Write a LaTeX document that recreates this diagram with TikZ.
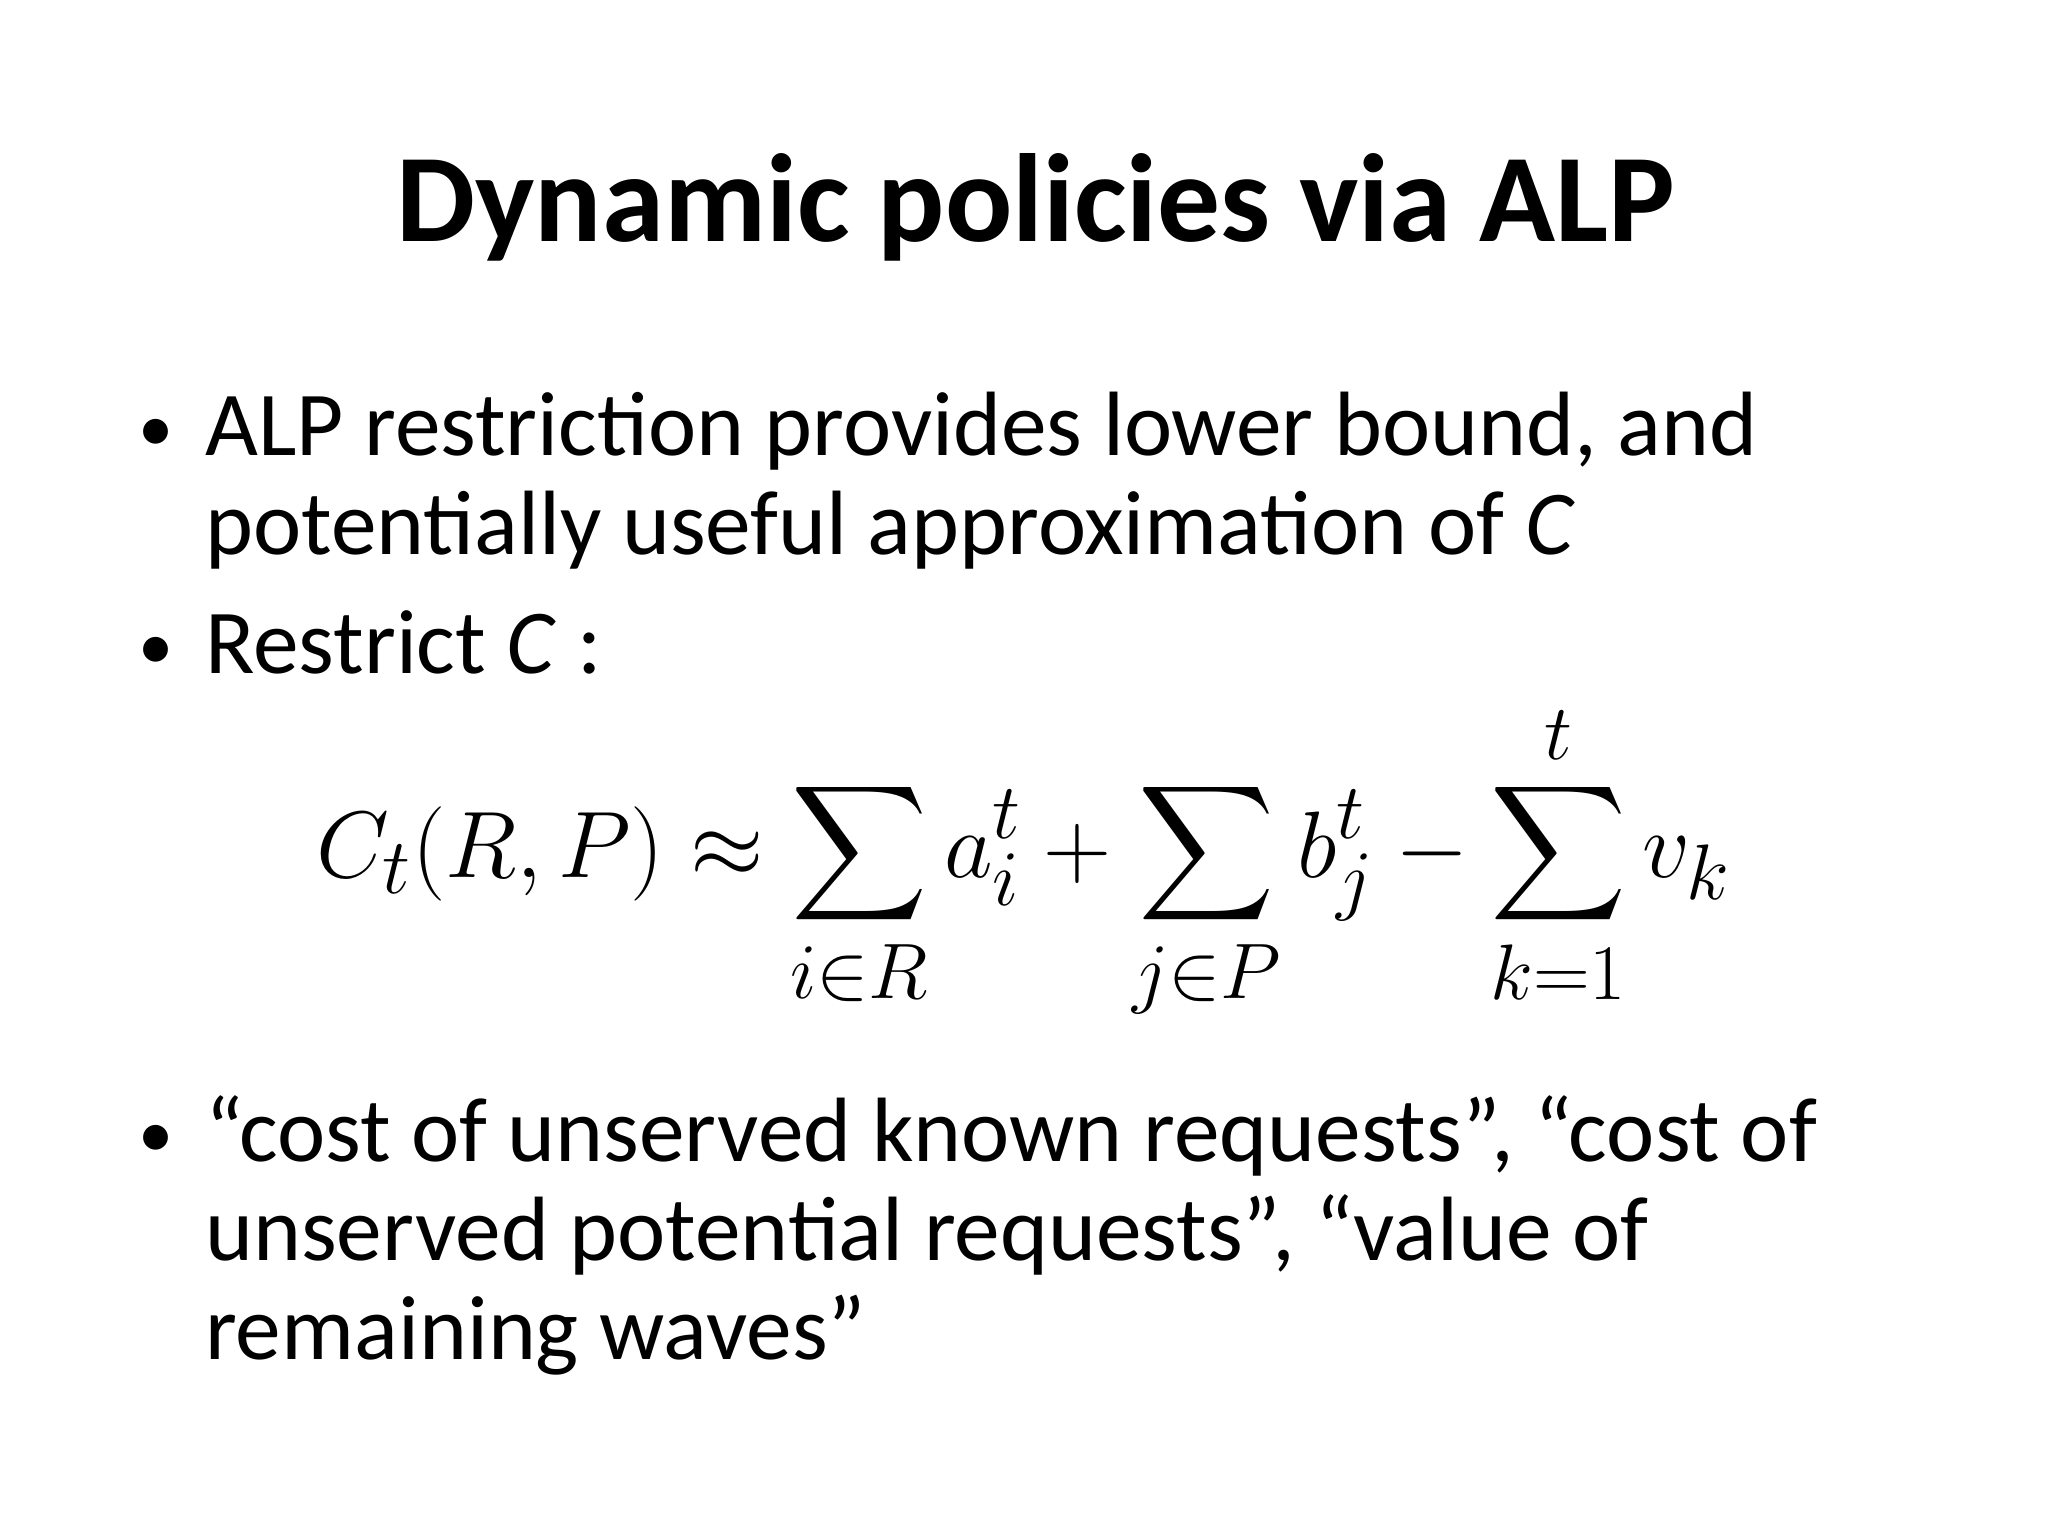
\documentclass[tikz,border=0pt]{standalone}
\usepackage{fontspec}
\usepackage{amsmath}
\setmainfont{Carlito}
\begin{document}
\begin{tikzpicture}[x=0.013196cm,y=-0.013196cm,
  body/.style={anchor=base west,inner sep=0pt,font=\fontsize{26}{28}\selectfont},
  bul/.style={anchor=base,inner sep=0pt,font=\fontsize{20}{28}\selectfont}]
\useasboundingbox (0,0) rectangle (1552,1164);
\node[anchor=base,inner sep=0pt,font=\fontsize{35.7}{40}\selectfont\bfseries] (title) at (785,183) {Dynamic policies via ALP};
\node[bul] (b1) at (118,342) {•};
\node[body] (t1) at (155,345) {ALP restriction provides lower bound, and};
\node[body] (t1b) at (155,420) {potentially useful approximation of \textit{C}};
\node[bul] (b2) at (118,507) {•};
\node[body] (t2) at (155,510) {Restrict \textit{C} :};
\node[anchor=base,inner sep=0pt,font=\fontsize{24.88}{28}\selectfont,scale=1.08] (eq) at (776,665)
 {$\displaystyle C_t(R,P)\approx\sum_{i\in R}a_i^t+\sum_{j\in P}b_j^t-\sum_{k=1}^{t}v_k$};
\node[bul] (b3) at (118,877) {•};
\node[body] (t3) at (155,880) {“cost of unserved known requests”, “cost of};
\node[body] (t3b) at (155,955) {unserved potential requests”, “value of};
\node[body] (t3c) at (155,1030) {remaining waves”};
\end{tikzpicture}
\end{document}
